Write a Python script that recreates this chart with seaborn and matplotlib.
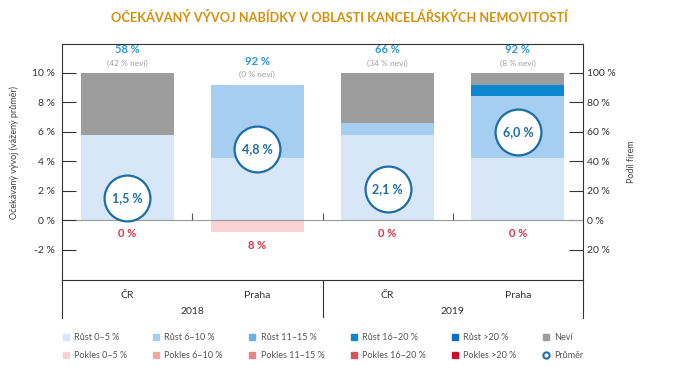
import numpy as np
import seaborn as sns
import matplotlib.pyplot as plt
from matplotlib.lines import Line2D

# Data
places = ['ČR', 'Praha', 'ČR', 'Praha']
years = ['2018', '2019']
bars = [0, 1, 2, 3]

# share of firms, %
rust_0_5 = [58, 42, 58, 42]
rust_6_10 = [0, 50, 8, 42]
rust_11_15 = [0, 0, 0, 0]
rust_16_20 = [0, 0, 0, 8]
rust_20 = [0, 0, 0, 0]
nevi = [42, 0, 34, 8]
pokles_0_5 = [0, 8, 0, 0]
pokles_6_10 = [0, 0, 0, 0]
pokles_11_15 = [0, 0, 0, 0]
pokles_16_20 = [0, 0, 0, 0]
pokles_20 = [0, 0, 0, 0]

# weighted average expected change, %
prumer = [1.5, 4.8, 2.1, 6.0]

colors = {
    'Růst 0–5 %': '#d7e7f7',
    'Růst 6–10 %': '#a6cef0',
    'Růst 11–15 %': '#6cb1e6',
    'Růst 16–20 %': '#0c88d0',
    'Růst >20 %': '#0a6fc4',
    'Neví': '#9d9d9d',
    'Pokles 0–5 %': '#f8d3d2',
    'Pokles 6–10 %': '#efa8a4',
    'Pokles 11–15 %': '#e78383',
    'Pokles 16–20 %': '#d9535b',
    'Pokles >20 %': '#c8102e',
}
up = [('Růst 0–5 %', rust_0_5), ('Růst 6–10 %', rust_6_10), ('Růst 11–15 %', rust_11_15),
      ('Růst 16–20 %', rust_16_20), ('Růst >20 %', rust_20), ('Neví', nevi)]
down = [('Pokles 0–5 %', pokles_0_5), ('Pokles 6–10 %', pokles_6_10), ('Pokles 11–15 %', pokles_11_15),
        ('Pokles 16–20 %', pokles_16_20), ('Pokles >20 %', pokles_20)]

sns.set_style('white')
plt.rcParams['font.family'] = ['Lato', 'DejaVu Sans']

W, H = 674, 380
fig = plt.figure(figsize=(W / 100, H / 100), dpi=100)
ax = fig.add_axes([62 / W, 1 - 280 / H, 521 / W, 236 / H])
ax2 = ax.twinx()

# stacked bars (share of firms) on the right axis, drawn top layer first
width = 0.715
tops = np.cumsum([v for _, v in up], axis=0)
for (name, _), top in reversed(list(zip(up, tops))):
    sns.barplot(x=bars, y=top, color=colors[name], width=width, saturation=1,
                errorbar=None, linewidth=0, ax=ax2)
bottoms = -np.cumsum([v for _, v in down], axis=0)
for (name, _), bot in reversed(list(zip(down, bottoms))):
    sns.barplot(x=bars, y=bot, color=colors[name], width=width, saturation=1,
                errorbar=None, linewidth=0, ax=ax2)

growth = tops[-2]
decline = -bottoms[-1]
for i in bars:
    top = growth[i] + nevi[i]
    ax2.annotate(f'{growth[i]} %', (i, top), xytext=(0, 16.5), textcoords='offset points',
                 ha='center', va='center', fontsize=8, fontweight='bold', color='#2d97cf')
    ax2.annotate(f'({nevi[i]} % neví)', (i, top), xytext=(0, 7), textcoords='offset points',
                 ha='center', va='center', fontsize=6, color='#a0a0a0')
    ax2.annotate(f'{decline[i]} %', (i, -decline[i]), xytext=(0, -10), textcoords='offset points',
                 ha='center', va='center', fontsize=8, fontweight='bold', color='#d2374c')

ax2.axhline(0, color='#9a9a9a', lw=0.8, zorder=3)
ax2.vlines(np.array(bars[:-1]) + 0.5, 0, 5, color='#555555', lw=0.8, zorder=3)

# average markers on the left axis
sns.scatterplot(x=bars, y=prumer, s=33 ** 2, color='white', edgecolor='#1e6ea6',
                linewidth=1.6, zorder=5, ax=ax)
for i, v in zip(bars, prumer):
    ax.text(i, v, f'{v:.1f}'.replace('.', ',') + ' %', ha='center', va='center',
            fontsize=9, fontweight='bold', color='#1f6ea6', zorder=6)

ax.set_zorder(ax2.get_zorder() + 1)
ax.patch.set_visible(False)

lo, hi = -4.07, 11.95
ax.set_ylim(lo, hi)
ax2.set_ylim(lo * 10, hi * 10)
ax.set_xlim(-0.5, 3.5)
ax.set_xticks([])
ax2.set_xticks([])
ax.set_xlabel('')
ax2.set_xlabel('')

lt = list(range(-2, 11, 2))
ax.set_yticks(lt)
ax.set_yticklabels([f'{t} %' for t in lt])
rt = list(range(-20, 101, 20))
ax2.set_yticks(rt)
ax2.set_yticklabels([f'{abs(t)} %' for t in rt])
ax.tick_params(axis='y', direction='in', length=10, width=0.8, color='#333333',
               labelsize=7.5, labelcolor='#333333', pad=5, left=True)
ax2.tick_params(axis='y', direction='in', length=10, width=0.8, color='#333333',
                labelsize=7.5, labelcolor='#333333', pad=3, right=True)

for s in ax.spines.values():
    s.set_color('#333333')
    s.set_linewidth(0.8)
ax.spines['right'].set_visible(False)
for k, s in ax2.spines.items():
    s.set_visible(k == 'right')
    s.set_color('#333333')
    s.set_linewidth(0.8)

ax.set_ylabel('Očekávaný vývoj (vážený průměr)', fontsize=6.5, color='#444444')
ax.yaxis.set_label_coords(-0.083, 0.54)
ax2.set_ylabel('Podíl firem', fontsize=6.5, color='#444444')
ax2.yaxis.set_label_coords(1.084, 0.5)

# category area below the plot
axc = fig.add_axes([62 / W, 1 - 318 / H, 521 / W, 38 / H])
axc.set_xlim(-0.5, 3.5)
axc.set_ylim(0, 1)
axc.set_xticks([])
axc.set_yticks([])
axc.patch.set_visible(False)
for k, s in axc.spines.items():
    s.set_visible(k in ('left', 'right'))
    s.set_color('#333333')
    s.set_linewidth(0.8)
axc.axvline(1.5, color='#333333', lw=0.8)
for i, p in zip(bars, places):
    axc.text(i, 0.58, p, ha='center', va='center', fontsize=7.5, color='#333333')
for j, y in enumerate(years):
    axc.text(2 * j + 0.5, 0.16, y, ha='center', va='center', fontsize=7.5, color='#333333')

fig.text(0.503, 1 - 17 / H, 'OČEKÁVANÝ VÝVOJ NABÍDKY V OBLASTI KANCELÁŘSKÝCH NEMOVITOSTÍ',
         ha='center', va='center', fontsize=9.2, fontweight='bold', color='#d4900f')

# legend: column-wise order for two rows
handles, labels = [], []
row2 = down + [('Průměr', None)]
for (n1, _), (n2, _) in zip(up, row2):
    handles.append(Line2D([], [], marker='s', ls='none', ms=4.5, mfc=colors[n1], mec=colors[n1]))
    labels.append(n1)
    if n2 == 'Průměr':
        handles.append(Line2D([], [], marker='o', ls='none', ms=4.5, mfc='white',
                              mec='#1e6ea6', mew=1.5))
    else:
        handles.append(Line2D([], [], marker='s', ls='none', ms=4.5, mfc=colors[n2], mec=colors[n2]))
    labels.append(n2)
fig.legend(handles, labels, ncol=6, loc='lower left', mode='expand',
           bbox_to_anchor=(62 / W, 1 - 360 / H, 521 / W, 40 / H), frameon=False,
           fontsize=6.5, labelcolor='#555555', handlelength=0.8, handletextpad=0.5,
           labelspacing=1.0, borderaxespad=0, borderpad=0)

fig.savefig('out.png', dpi=100)
